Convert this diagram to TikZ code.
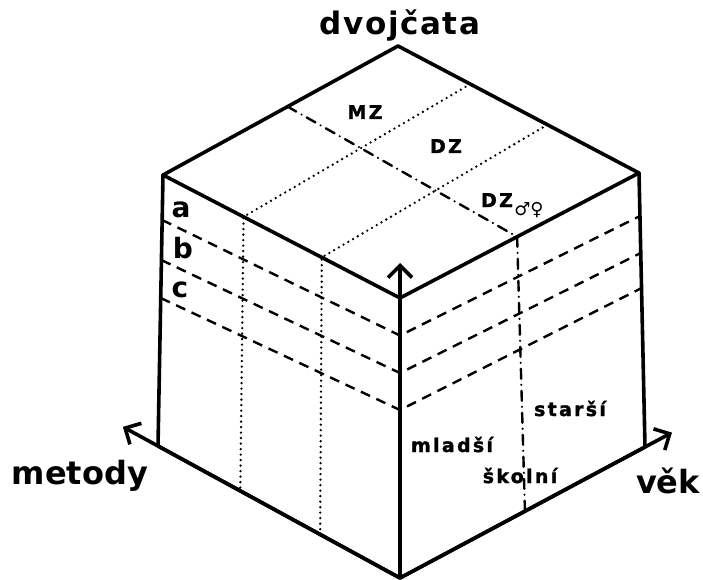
\documentclass[tikz,border=0pt]{standalone}
\usepackage{fontspec}
\setmainfont{DejaVu Sans}
\newfontfamily\widefont{DejaVu Sans}[LetterSpace=5]
\newfontfamily\cellfont{DejaVu Sans}[LetterSpace=12,FakeBold=1.5]
\usetikzlibrary{arrows.meta,calc}

\begin{document}
\begin{tikzpicture}[x=1pt,y=-1pt]
\tikzstyle{edge}=[line width=3.6pt,line join=round,line cap=round]
\tikzstyle{axis}=[line width=3.6pt,-{Straight Barb[length=12pt,width=24pt]}]
\tikzstyle{level}=[line width=2.4pt,dash pattern=on 10pt off 7pt]
\tikzstyle{group}=[line width=2.6pt,line cap=round,dash pattern=on 0pt off 5.5pt]
\tikzstyle{age}=[line width=2.4pt,line cap=round,dash pattern=on 10pt off 6pt on 0pt off 6pt]
\tikzstyle{axislabel}=[inner sep=0pt,anchor=base,font=\bfseries\fontsize{32}{32}\selectfont]
\tikzstyle{rowlabel}=[inner sep=0pt,anchor=base,font=\bfseries\fontsize{28}{28}\selectfont]
\tikzstyle{cell}=[inner sep=0pt,anchor=base,font=\cellfont\bfseries\fontsize{19}{19}\selectfont]
% end of definitions
\useasboundingbox (0,0) rectangle (703,580);
\coordinate (top) at (398,46);
\coordinate (left) at (163,175);
\coordinate (right) at (639,173);
\coordinate (front) at (400,298);
\coordinate (leftfoot) at (158,446);
\coordinate (rightfoot) at (645,447);
\coordinate (bottom) at (400,578);
% twin groups
\foreach \s/\t in {0.3/0.34,0.62/0.67}
  \draw[group] ($(top)!\s!(right)$) -- ($(left)!\t!(front)$) -- ($(leftfoot)!\t!(bottom)$);
\draw[age] ($(top)!0.47!(left)$) -- ($(front)!0.49!(right)$) -- ($(bottom)!0.51!(rightfoot)$); %age split
% methods a, b, c
\foreach \l/\f/\r in {0.166/0.134/0.157,0.314/0.268/0.292,0.454/0.4/0.42}
  \draw[level] ($(left)!\l!(leftfoot)$) -- ($(front)!\f!(bottom)$) -- ($(right)!\r!(rightfoot)$);
\draw[edge] (left) -- (top) -- (right) -- (front) -- cycle; %lid
\draw[edge] (left) -- (leftfoot) -- (bottom) -- (rightfoot) -- (right);
\draw[axis] (bottom) -- ($(bottom)!1.145!(leftfoot)$) coordinate (metodytip);
\draw[axis] (bottom) -- ($(bottom)!1.11!(rightfoot)$) coordinate (vektip);
\draw[axis] (bottom) -- ($(bottom)!1.125!(front)$) coordinate (uptip);
\node[axislabel,font=\widefont\bfseries\fontsize{31}{31}\selectfont] (dvojcata) at (400,35) {dvojčata};
\node[axislabel] (metody) at (80,484) {metody};
\node[axislabel] (vek) at (668,493) {věk};
\node[rowlabel] (a) at (181,217) {a};
\node[rowlabel] (b) at (183,258) {b};
\node[rowlabel] (c) at (180,297) {c};
\node[cell] (mz) at (365,119) {MZ};
\node[cell] (dz) at (446,153) {DZ};
\node[cell] (dzmix) at (497,207) {DZ};
\node[inner sep=0pt,anchor=base west,font=\fontsize{18}{18}\selectfont] (sexes) at ($(dzmix.base east)+(1,8)$) {♂♀};
\node[cell] (mladsi) at (452,452) {mladší};
\node[cell] (starsi) at (570,416) {starší};
\node[cell] (skolni) at (520,483) {školní};
\end{tikzpicture}
\end{document}
